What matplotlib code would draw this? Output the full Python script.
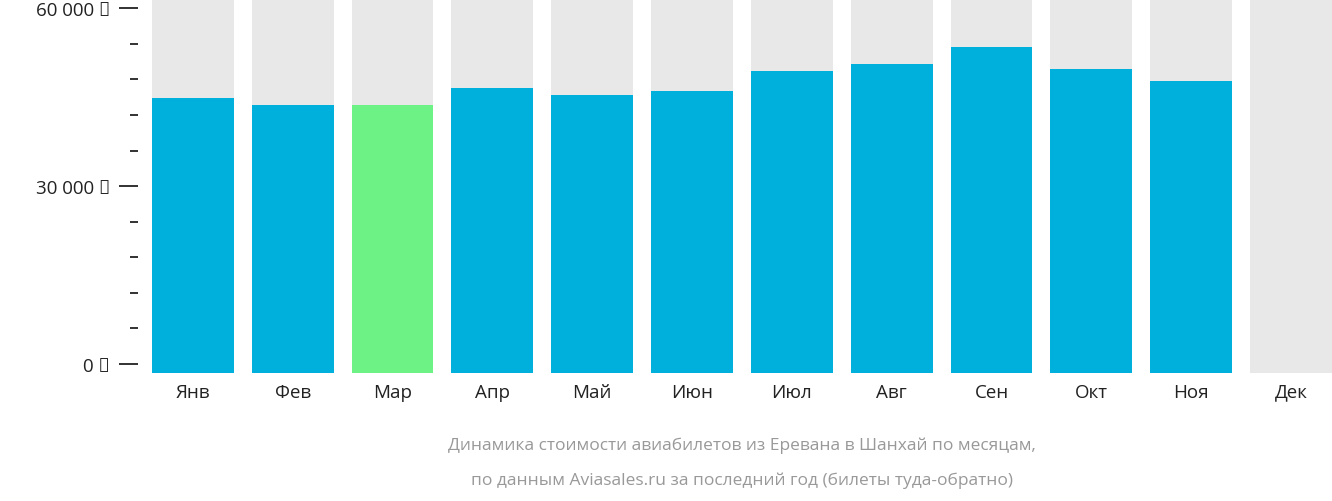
import matplotlib
matplotlib.use("Agg")
import matplotlib.pyplot as plt
from matplotlib.ticker import MultipleLocator, FixedLocator

months = ["Янв", "Фев", "Мар", "Апр", "Май", "Июн", "Июл", "Авг", "Сен", "Окт", "Ноя", "Дек"]
prices = [44800, 43700, 43700, 46500, 45400, 46000, 49400, 50600, 53500, 49700, 47700, 0]
cheapest = "Мар"
y_ticks = [0, 30000, 60000]
y_labels = ["0 ₽", "30 000 ₽", "60 000 ₽"]

plt.rcParams["font.family"] = "Open Sans"
fig = plt.figure(figsize=(13.32, 5.02), dpi=100)
ax = fig.add_axes([0.114, 0.255, 0.886, 0.745])

ymin, ymax = -1520, 61550
x = range(len(months))
ax.bar(x, [ymax - ymin] * len(months), bottom=ymin, width=0.82, color="#e8e8e8")
colors = ["#6cf285" if m == cheapest else "#00b0dc" for m in months]
ax.bar(x, [p - ymin if p else 0 for p in prices], bottom=ymin, width=0.82, color=colors)

ax.set_xlim(-0.41, 11.41)
ax.set_ylim(ymin, ymax)
for s in ax.spines.values():
    s.set_visible(False)
ax.spines["left"].set_position(("outward", 10))
ax.yaxis.set_major_locator(FixedLocator(y_ticks))
ax.set_yticklabels(y_labels, fontsize=13.5, color="#222222")
ax.yaxis.set_minor_locator(MultipleLocator(6000))
ax.tick_params(axis="y", which="major", length=14, width=1.3, color="#222222", pad=6)
ax.tick_params(axis="y", which="minor", length=6, width=1.3, color="#222222")
ax.set_xticks(list(x))
ax.set_xticklabels(months, fontsize=13.5, color="#222222")
ax.tick_params(axis="x", length=0, pad=7)

fig.text(0.557, 0.113, "Динамика стоимости авиабилетов из Еревана в Шанхай по месяцам,",
         ha="center", va="center", fontsize=12.5, color="#999999")
fig.text(0.557, 0.043, "по данным Aviasales.ru за последний год (билеты туда-обратно)",
         ha="center", va="center", fontsize=12.5, color="#999999")

fig.savefig("out.png", dpi=100)
